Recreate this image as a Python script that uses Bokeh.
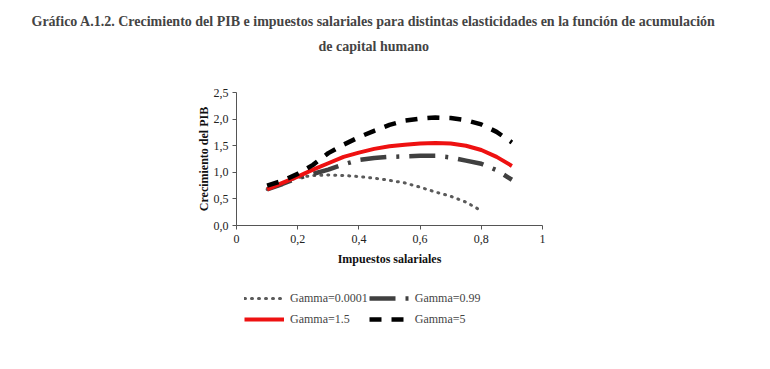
from bokeh.plotting import figure
from bokeh.layouts import column
from bokeh.models import Range1d, FixedTicker, CustomJSTickFormatter, Legend, LegendItem, Title
from bokeh.embed import file_html
from bokeh.resources import INLINE

# Data
tax = [0.1, 0.15, 0.2, 0.25, 0.3, 0.35, 0.4, 0.45, 0.5, 0.55, 0.6, 0.65, 0.7, 0.75, 0.8, 0.85, 0.9]
tax_g0 = [0.1, 0.15, 0.2, 0.25, 0.3, 0.35, 0.4, 0.45, 0.5, 0.55, 0.6, 0.65, 0.7, 0.75, 0.79]
g_0001 = [0.68, 0.80, 0.90, 0.94, 0.95, 0.94, 0.92, 0.89, 0.85, 0.80, 0.72, 0.63, 0.55, 0.44, 0.31]
g_099 = [0.68, 0.78, 0.89, 0.97, 1.05, 1.15, 1.23, 1.27, 1.29, 1.30, 1.31, 1.31, 1.28, 1.22, 1.16, 1.04, 0.86]
g_15 = [0.68, 0.80, 0.92, 1.05, 1.17, 1.29, 1.37, 1.44, 1.49, 1.52, 1.54, 1.55, 1.54, 1.50, 1.42, 1.29, 1.12]
g_5 = [0.75, 0.84, 0.97, 1.14, 1.36, 1.52, 1.66, 1.78, 1.89, 1.97, 2.01, 2.03, 2.02, 1.98, 1.90, 1.76, 1.56]

labels = ["Gamma=0.0001", "Gamma=0.99", "Gamma=1.5", "Gamma=5"]
x_ticks = [0, 0.2, 0.4, 0.6, 0.8, 1.0]
y_ticks = [0, 0.5, 1.0, 1.5, 2.0, 2.5]

SERIF = "Liberation Serif"
STYLES = [
    dict(line_color="#5a5a5a", line_width=3, line_dash="1 6", line_cap="round"),
    dict(line_color="#404040", line_width=4.5, line_dash="26 10 3 10"),
    dict(line_color="#ee1111", line_width=4),
    dict(line_color="#000000", line_width=4.5, line_dash="12 10"),
]
SERIES = [(tax_g0, g_0001), (tax, g_099), (tax, g_15), (tax, g_5)]

W, H = 754, 280
FL, FT, FR, FB = 236, 92, 542, 225  # frame box in figure pixels
p = figure(width=W, height=H, output_backend="svg", toolbar_location=None,
           x_range=Range1d(0, 1), y_range=Range1d(0, 2.5),
           min_border_left=FL, min_border_right=W - FR,
           min_border_top=FT, min_border_bottom=H - FB)
p.outline_line_color = None
p.xgrid.grid_line_color = None
p.ygrid.grid_line_color = None

p.xaxis.ticker = FixedTicker(ticks=x_ticks)
p.yaxis.ticker = FixedTicker(ticks=y_ticks)
p.xaxis.formatter = CustomJSTickFormatter(code="""
  if (Math.abs(tick) < 1e-9) return '0';
  if (Math.abs(tick-1) < 1e-9) return '1';
  return tick.toFixed(1).replace('.', ',');""")
p.yaxis.formatter = CustomJSTickFormatter(code="return tick.toFixed(1).replace('.', ',');")
for ax in (p.xaxis[0], p.yaxis[0]):
    ax.axis_line_color = "#555555"
    ax.major_tick_line_color = "#555555"
    ax.major_tick_out = 4
    ax.major_tick_in = 0
    ax.minor_tick_line_color = None
    ax.major_label_text_font = SERIF
    ax.major_label_text_font_size = "12px"
    ax.major_label_text_color = "#222222"
    ax.axis_label_text_font = SERIF
    ax.axis_label_text_font_style = "bold"
    ax.axis_label_text_font_size = "12px"
    ax.axis_label_text_color = "#111111"
p.xaxis.axis_label = "Impuestos salariales"
p.yaxis.axis_label = "Crecimiento del PIB"
p.xaxis.axis_label_standoff = 6
p.yaxis.axis_label_standoff = 0
p.xaxis.major_label_standoff = 5
p.yaxis.major_label_standoff = 4

for (xs, ys), st in zip(SERIES, STYLES):
    p.line(xs, ys, **st)

spacer = Title(text=" ", text_font_size="10px", standoff=23)
t2 = Title(text="de capital humano", align="left", offset=82,
           text_font=SERIF, text_font_style="bold", text_font_size="14px", standoff=6)
t1 = Title(text="Gráfico A.1.2. Crecimiento del PIB e impuestos salariales para distintas elasticidades en la función de acumulación",
           align="left", offset=-205,
           text_font=SERIF, text_font_style="bold", text_font_size="14px", standoff=10)
p.add_layout(spacer, "above")
p.add_layout(t2, "above")
p.add_layout(t1, "above")

# Legend panel: a second figure whose view range keeps its copies of the series out of sight
lg = figure(width=W, height=60, output_backend="svg", toolbar_location=None,
            x_range=Range1d(0, 1), y_range=Range1d(10, 11),
            x_axis_location=None, y_axis_location=None,
            min_border=0, min_border_left=0, min_border_right=0,
            min_border_top=0, min_border_bottom=0)
lg.outline_line_color = None
lg.grid.visible = False
rs = [lg.line(xs, ys, **st) for (xs, ys), st in zip(SERIES, STYLES)]
legend = Legend(items=[LegendItem(label=lab, renderers=[r]) for lab, r in zip(labels, rs)],
                orientation="horizontal", ncols=2,
                location=(8, 11), glyph_width=40, glyph_height=12, label_height=20,
                label_text_font=SERIF, label_text_font_size="12px",
                label_standoff=6, spacing=1, padding=0, margin=0,
                border_line_color=None, background_fill_alpha=0)
lg.add_layout(legend, "center")

layout = column(p, lg, spacing=0)
open("out.html", "w").write(file_html(layout, INLINE))
